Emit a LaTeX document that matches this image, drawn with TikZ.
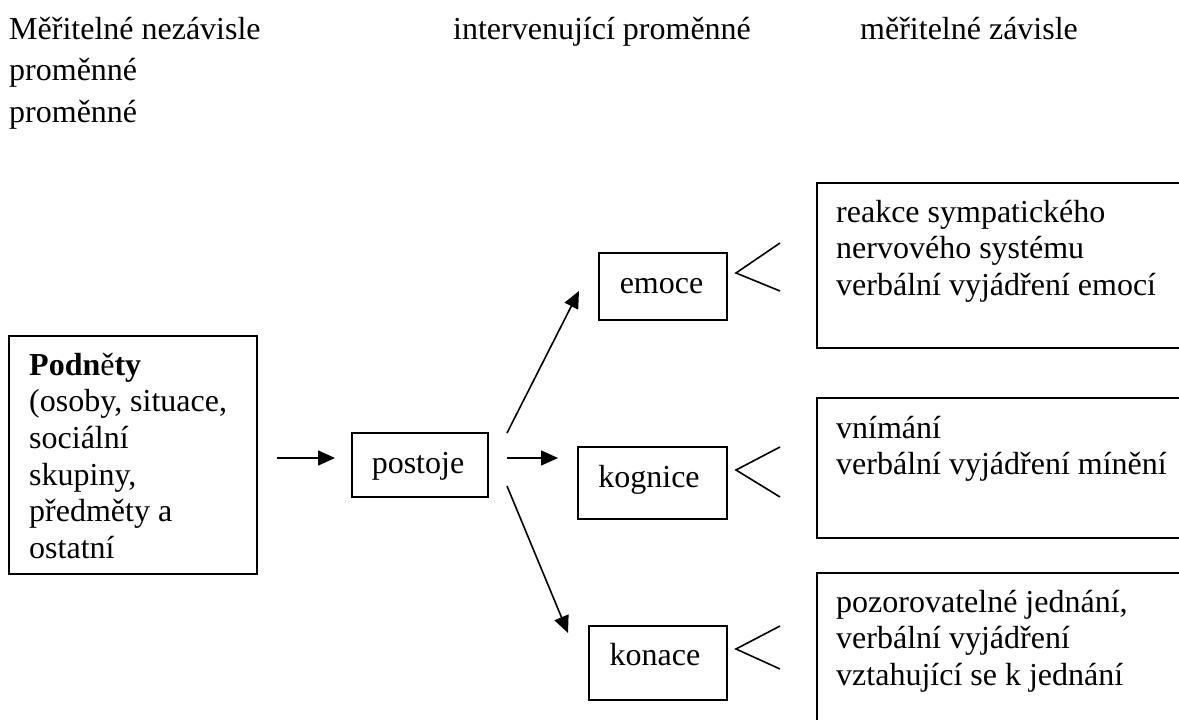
\documentclass[tikz,border=0pt]{standalone}
\usepackage{fontspec}
\setmainfont{Liberation Serif}
\usetikzlibrary{arrows.meta}
\begin{document}
\begin{tikzpicture}[x=1pt,y=-1pt,
  box/.style={draw, line width=1.8pt, inner sep=0pt},
  txt/.style={inner sep=0pt, font=\fontsize{32}{36.7}\selectfont, align=left, anchor=base west},
  head/.style={inner sep=0pt, font=\fontsize{32}{41.7}\selectfont, align=left, anchor=base west},
  lbl/.style={inner sep=0pt, font=\fontsize{32}{36.7}\selectfont, anchor=base},
  conn/.style={line width=1.6pt, -{Triangle[length=17pt,width=15pt]}},
  fork/.style={line width=1.6pt}]
\useasboundingbox (0,0) rectangle (1179,720);
\clip (0,0) rectangle (1179,720);

% headers (multi-line nodes are anchored at the baseline of their last line)
\node[head] (h1) at (9,122.4) {Měřitelné nezávisle\\proměnné\\proměnné};
\node[head] (h2) at (453,39) {intervenující proměnné};
\node[head] (h3) at (860,39) {měřitelné závisle};

% left box
\node[box, minimum width=248pt, minimum height=238pt, anchor=north west] (podnety) at (8,335) {};
\node[txt] (podnetyT) at (29,558.5) {\textbf{Podn}ě\textbf{ty}\\(osoby, situace,\\sociální\\skupiny,\\předměty a\\ostatní};

% middle boxes
\node[box, minimum width=136pt, minimum height=64pt] (postoje) at (420,465) {};
\node[lbl] (postojeT) at (418,473) {postoje};
\node[box, minimum width=128pt, minimum height=67pt] (emoce) at (663,286.5) {};
\node[lbl] (emoceT) at (661.5,293) {emoce};
\node[box, minimum width=149pt, minimum height=72pt] (kognice) at (652.5,483) {};
\node[lbl] (kogniceT) at (649,487) {kognice};
\node[box, minimum width=138pt, minimum height=74pt] (konace) at (658,663) {};
\node[lbl] (konaceT) at (655,665) {konace};

% right boxes (open to the right edge)
\node[box, minimum width=380pt, minimum height=165pt, anchor=north west] (r1) at (816,182) {};
\node[txt] (r1T) at (836,295.4) {reakce sympatického\\nervového systému\\verbální vyjádření emocí};
\node[box, minimum width=380pt, minimum height=140pt, anchor=north west] (r2) at (816,397) {};
\node[txt] (r2T) at (836,474.7) {vnímání\\verbální vyjádření mínění};
\node[box, minimum width=380pt, minimum height=180pt, anchor=north west] (r3) at (816,572) {};
\node[txt] (r3T) at (836,685.4) {pozorovatelné jednání,\\verbální vyjádření\\vztahující se k jednání};

% arrow end points
\coordinate (a0s) at (277,458); \coordinate (a0e) at (335,458);
\coordinate (a1s) at (507,433); \coordinate (a1e) at (579,291);
\coordinate (a2s) at (507,458); \coordinate (a2e) at (558,458);
\coordinate (a3s) at (507,486); \coordinate (a3e) at (568,633);
\draw[conn] (a0s) -- (a0e);
\draw[conn] (a1s) -- (a1e);
\draw[conn] (a2s) -- (a2e);
\draw[conn] (a3s) -- (a3e);

% forks
\coordinate (f1a) at (780,243); \coordinate (f1v) at (736,273); \coordinate (f1b) at (780,291);
\coordinate (f2a) at (780,447); \coordinate (f2v) at (736,470); \coordinate (f2b) at (780,497);
\coordinate (f3a) at (780,626); \coordinate (f3v) at (736,649); \coordinate (f3b) at (780,669);
\draw[fork] (f1a) -- (f1v) -- (f1b);
\draw[fork] (f2a) -- (f2v) -- (f2b);
\draw[fork] (f3a) -- (f3v) -- (f3b);
\end{tikzpicture}
\end{document}
